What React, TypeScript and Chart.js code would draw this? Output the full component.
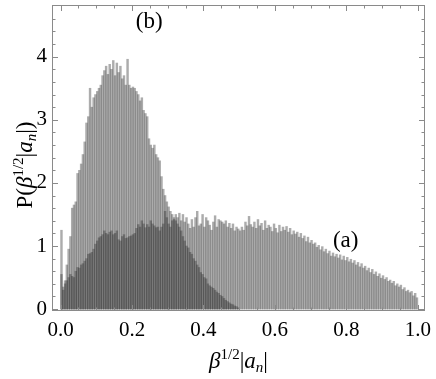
import React, { useEffect, useRef } from "react";
import { Chart, registerables } from "chart.js";

Chart.register(...registerables);

// Histogram bins: width 0.005 starting at 0
const BIN_START = 0;
const BIN_WIDTH = 0.005;

// Series (a): broad distribution over [0, 1]
const SERIES_A = [
  0.55, 0.3, 0.4, 0.45, 0.5, 0.55, 0.52, 0.5, 0.6, 0.66,
  0.65, 0.7, 0.72, 0.76, 0.8, 0.87, 0.88, 0.9, 0.95, 1.03,
  1.08, 1.13, 1.15, 1.18, 1.24, 1.2, 1.18, 1.22, 1.24, 1.18,
  1.2, 1.24, 1.1, 1.08, 1.15, 1.18, 1.12, 1.13, 1.15, 1.16,
  1.18, 1.2, 1.28, 1.34, 1.3, 1.4, 1.35, 1.29, 1.34, 1.3,
  1.4, 1.35, 1.32, 1.29, 1.3, 1.24, 1.3, 1.35, 1.55, 1.45,
  1.35, 1.3, 1.4, 1.42, 1.5, 1.45, 1.52, 1.4, 1.5, 1.38,
  1.45, 1.35, 1.28, 1.42, 1.3, 1.45, 1.55, 1.32, 1.35, 1.5,
  1.3, 1.45, 1.4, 1.33, 1.25, 1.38, 1.48, 1.3, 1.42, 1.4,
  1.38, 1.35, 1.4, 1.3, 1.36, 1.28, 1.35, 1.24, 1.3, 1.27,
  1.24, 1.3, 1.25, 1.38, 1.32, 1.47, 1.34, 1.3, 1.38, 1.28,
  1.42, 1.32, 1.36, 1.25, 1.4, 1.28, 1.33, 1.3, 1.23, 1.35,
  1.28, 1.21, 1.33, 1.23, 1.3, 1.25, 1.31, 1.22, 1.28, 1.18,
  1.24, 1.19, 1.22, 1.14, 1.2, 1.12, 1.16, 1.07, 1.14, 1.05,
  1.09, 1.03, 1.05, 0.98, 1.01, 0.94, 0.99, 0.91, 0.95, 0.88,
  0.92, 0.84, 0.89, 0.83, 0.87, 0.81, 0.86, 0.78, 0.84, 0.77,
  0.82, 0.75, 0.79, 0.73, 0.77, 0.7, 0.74, 0.67, 0.72, 0.65,
  0.68, 0.61, 0.65, 0.58, 0.63, 0.55, 0.59, 0.52, 0.56, 0.49,
  0.53, 0.47, 0.5, 0.44, 0.46, 0.41, 0.44, 0.37, 0.4, 0.35,
  0.38, 0.31, 0.34, 0.28, 0.3, 0.26, 0.28, 0.21, 0.25, 0.18,
];

// Series (b): peaked distribution over [0, 0.5]
const SERIES_B = [
  1.25, 0.35, 0.45, 0.7, 0.95, 1.15, 1.6, 1.65, 1.7, 2.15,
  2.2, 2.3, 2.45, 2.65, 2.95, 3.05, 3.5, 3.2, 3.35, 3.4,
  3.45, 3.5, 3.55, 3.7, 3.78, 3.85, 3.72, 3.88, 3.8, 3.94,
  3.7, 3.9, 3.75, 3.85, 3.65, 3.7, 3.55, 3.96, 3.55, 3.5,
  3.52, 3.5, 3.45, 3.4, 3.3, 3.35, 3.15, 3.1, 3.05, 2.7,
  2.6, 2.55, 2.6, 2.45, 2.4, 2.35, 2.1, 1.9, 1.8, 1.7,
  1.62, 1.55, 1.5, 1.45, 1.4, 1.35, 1.3, 1.24, 1.15, 1.08,
  1.0, 0.97, 0.9, 0.87, 0.8, 0.76, 0.7, 0.66, 0.58, 0.55,
  0.5, 0.48, 0.4, 0.37, 0.35, 0.33, 0.3, 0.27, 0.25, 0.22,
  0.2, 0.17, 0.14, 0.12, 0.1, 0.08, 0.07, 0.05, 0.04, 0.02,
];

const X_TICKS = [0, 0.2, 0.4, 0.6, 0.8, 1.0];
const X_MINOR = [0.05, 0.1, 0.15, 0.25, 0.3, 0.35, 0.45, 0.5, 0.55, 0.65, 0.7, 0.75, 0.85, 0.9, 0.95];
const Y_TICKS = [0, 1, 2, 3, 4];
const Y_MINOR = [0.2, 0.4, 0.6, 0.8, 1.2, 1.4, 1.6, 1.8, 2.2, 2.4, 2.6, 2.8, 3.2, 3.4, 3.6, 3.8, 4.2, 4.4, 4.6];
const X_MIN = -0.024;
const X_MAX = 1.02;
const Y_MIN = -0.03;
const Y_MAX = 4.82;

const LABEL_A = { text: "(a)", x: 0.798, y: 0.98 };
const LABEL_B = { text: "(b)", x: 0.248, y: 4.46 };

const FONT = "'Liberation Serif', 'Times New Roman', serif";
const FILL = "rgba(48,48,48,0.4)";
const FRAME = "#8a8a8a";

type Part = { t: string; size: number; italic?: boolean; dy?: number };

function drawRich(ctx: CanvasRenderingContext2D, parts: Part[], cx: number, baseline: number) {
  let total = 0;
  const widths = parts.map((p) => {
    ctx.font = `${p.italic ? "italic " : ""}${p.size}px ${FONT}`;
    const w = ctx.measureText(p.t).width;
    total += w;
    return w;
  });
  let x = cx - total / 2;
  ctx.textBaseline = "alphabetic";
  ctx.textAlign = "left";
  parts.forEach((p, i) => {
    ctx.font = `${p.italic ? "italic " : ""}${p.size}px ${FONT}`;
    ctx.fillText(p.t, x, baseline + (p.dy || 0));
    x += widths[i];
  });
}

const TITLE_X: Part[] = [
  { t: "β", size: 23, italic: true },
  { t: "1/2", size: 15, dy: -9 },
  { t: "|", size: 23 },
  { t: "a", size: 23, italic: true },
  { t: "n", size: 15, italic: true, dy: 4 },
  { t: "|", size: 23 },
];
const TITLE_Y: Part[] = [{ t: "P(", size: 23 }, ...TITLE_X, { t: ")", size: 23 }];

const decor = {
  id: "decor",
  afterDatasetsDraw(chart: any) {
    const { ctx, chartArea } = chart;
    const { left, right, top, bottom } = chartArea;
    const xs = chart.scales.x;
    const ys = chart.scales.y;
    ctx.save();
    ctx.strokeStyle = FRAME;
    ctx.lineWidth = 1;
    ctx.strokeRect(Math.round(left) + 0.5, Math.round(top) + 0.5, Math.round(right - left) - 1, Math.round(bottom - top) - 1);
    ctx.beginPath();
    const tickX = (v: number, len: number) => {
      const p = Math.round(xs.getPixelForValue(v)) + 0.5;
      ctx.moveTo(p, bottom);
      ctx.lineTo(p, bottom - len);
      ctx.moveTo(p, top);
      ctx.lineTo(p, top + len);
    };
    const tickY = (v: number, len: number) => {
      const p = Math.round(ys.getPixelForValue(v)) + 0.5;
      ctx.moveTo(left, p);
      ctx.lineTo(left + len, p);
      ctx.moveTo(right, p);
      ctx.lineTo(right - len, p);
    };
    X_TICKS.forEach((v) => tickX(v, 6));
    X_MINOR.forEach((v) => tickX(v, 3.5));
    Y_TICKS.forEach((v) => tickY(v, 6));
    Y_MINOR.forEach((v) => tickY(v, 3.5));
    ctx.stroke();
    ctx.restore();
  },
  afterDraw(chart: any) {
    const { ctx, chartArea } = chart;
    const xs = chart.scales.x;
    const ys = chart.scales.y;
    ctx.save();
    ctx.fillStyle = "#000";
    const cx = (chartArea.left + chartArea.right) / 2;
    drawRich(ctx, TITLE_X, cx, 368);
    ctx.save();
    ctx.translate(32, 165);
    ctx.rotate(-Math.PI / 2);
    drawRich(ctx, TITLE_Y, 0, 0);
    ctx.restore();
    [LABEL_A, LABEL_B].forEach((l) => {
      drawRich(ctx, [{ t: l.text, size: 23 }], xs.getPixelForValue(l.x), ys.getPixelForValue(l.y));
    });
    ctx.restore();
  },
};

export default function App() {
  const ref = useRef<HTMLCanvasElement>(null);
  useEffect(() => {
    document.body.style.margin = "0";
    const toPoints = (arr: number[]) => arr.map((v, i) => ({ x: BIN_START + (i + 0.5) * BIN_WIDTH, y: v }));
    const chart = new Chart(ref.current!, {
      type: "bar",
      data: {
        datasets: [
          { label: "(a)", data: toPoints(SERIES_A) as any, backgroundColor: FILL, borderWidth: 0, barPercentage: 1, categoryPercentage: 1, grouped: false } as any,
          { label: "(b)", data: toPoints(SERIES_B) as any, backgroundColor: FILL, borderWidth: 0, barPercentage: 1, categoryPercentage: 1, grouped: false } as any,
        ],
      },
      options: {
        animation: false,
        responsive: true,
        maintainAspectRatio: false,
        layout: { padding: { top: 5, right: 11, left: 0, bottom: 0 } },
        plugins: { legend: { display: false }, tooltip: { enabled: false } },
        scales: {
          x: {
            type: "linear",
            min: X_MIN,
            max: X_MAX,
            offset: false,
            grid: { display: false, drawTicks: false },
            border: { display: false },
            afterBuildTicks: (s: any) => {
              s.ticks = X_TICKS.map((v) => ({ value: v }));
            },
            afterFit: (s: any) => {
              s.height = 68;
              s.paddingLeft = 0;
              s.paddingRight = 0;
            },
            ticks: {
              color: "#000",
              font: { family: FONT, size: 21 },
              padding: 7,
              maxRotation: 0,
              autoSkip: false,
              callback: (v: any) => Number(v).toFixed(1),
            },
          },
          y: {
            type: "linear",
            min: Y_MIN,
            max: Y_MAX,
            grid: { display: false, drawTicks: false },
            border: { display: false },
            afterBuildTicks: (s: any) => {
              s.ticks = Y_TICKS.map((v) => ({ value: v }));
            },
            afterFit: (s: any) => {
              s.width = 52;
              s.paddingTop = 0;
              s.paddingBottom = 0;
            },
            ticks: {
              color: "#000",
              font: { family: FONT, size: 21 },
              padding: 5,
              callback: (v: any) => String(Math.round(Number(v))),
            },
          },
        },
      },
      plugins: [decor],
    });
    return () => chart.destroy();
  }, []);
  return (
    <div style={{ width: 436, height: 379, position: "relative" }}>
      <canvas ref={ref} />
    </div>
  );
}
